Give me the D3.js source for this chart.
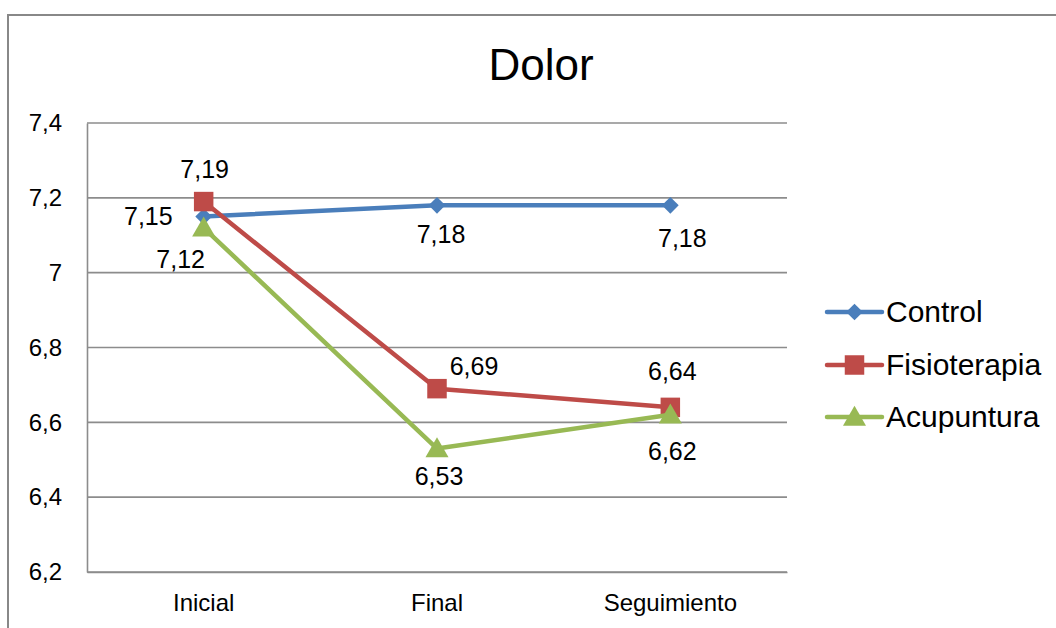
<!DOCTYPE html>
<html>
<head>
<meta charset="utf-8">
<script src="https://cdn.jsdelivr.net/npm/d3@7"></script>
<style>
  html, body { margin: 0; padding: 0; background: #fff; }
  svg { display: block; font-family: "Liberation Sans", Arial, sans-serif; }
</style>
</head>
<body>
<svg id="chart" width="1056" height="628"></svg>
<script>
// Dolor scores per group across the three assessment points
const categories = ["Inicial", "Final", "Seguimiento"];
const seriesNames = ["Control", "Fisioterapia", "Acupuntura"];
const controlValues = [7.15, 7.18, 7.18];
const fisioterapiaValues = [7.19, 6.69, 6.64];
const acupunturaValues = [7.12, 6.53, 6.62];
const yTicks = [6.2, 6.4, 6.6, 6.8, 7.0, 7.2, 7.4];

const seriesValues = [controlValues, fisioterapiaValues, acupunturaValues];
const colors = ["#4A7EBB", "#BE4B48", "#98B954"];
const markers = [d3.symbolSquare, d3.symbolSquare, d3.symbolTriangle];
const markerSizes = [140, 380, 230];
const markerRotation = [45, 0, 0];
const markerShift = [0, 0, 2];

// Label placement per series and point: [dx, baseline dy, anchor]
const labelPlacement = [
  [[-31, 8, "end"], [4, 38, "middle"], [12, 42, "middle"]],
  [[1, -24, "middle"], [37, -14, "middle"], [2, -27, "middle"]],
  [[-23, 40, "middle"], [2, 36, "middle"], [2, 45, "middle"]]
];

const fmt = v => String(v).replace(".", ",");

const svg = d3.select("#chart");
const plot = { left: 87, right: 787, top: 123, bottom: 572 };

// Outer chart frame
svg.append("rect")
  .attr("x", 8).attr("y", 15)
  .attr("width", 1200).attr("height", 800)
  .attr("fill", "#fff")
  .attr("stroke", "#888").attr("stroke-width", 2);

const x = d3.scaleBand().domain(categories).range([plot.left, plot.right]);
const y = d3.scaleLinear().domain([6.2, 7.4]).range([plot.bottom, plot.top]);
const cx = c => x(c) + x.bandwidth() / 2;

// Gridlines
svg.append("g")
  .selectAll("line")
  .data(yTicks)
  .join("line")
  .attr("x1", plot.left).attr("x2", plot.right)
  .attr("y1", d => y(d)).attr("y2", d => y(d))
  .attr("stroke", "#8c8c8c").attr("stroke-width", 1.6);

// Y axis
const yAxis = svg.append("g")
  .attr("transform", `translate(${plot.left},0)`)
  .call(d3.axisLeft(y).tickValues(yTicks).tickSize(0).tickPadding(25)
    .tickFormat(d => fmt(d)));
yAxis.select(".domain").attr("stroke", "#8c8c8c").attr("stroke-width", 1.6);
yAxis.selectAll("text").attr("font-size", 24).attr("fill", "#000")
  .attr("font-family", "Liberation Sans, Arial, sans-serif");

// X axis
const xAxis = svg.append("g")
  .attr("transform", `translate(0,${plot.bottom})`)
  .call(d3.axisBottom(x).tickSize(0).tickPadding(22));
xAxis.select(".domain").attr("stroke", "#8c8c8c").attr("stroke-width", 1.6);
xAxis.selectAll("text").attr("font-size", 24).attr("fill", "#000")
  .attr("font-family", "Liberation Sans, Arial, sans-serif");

// Title
svg.append("text")
  .attr("x", 541).attr("y", 80)
  .attr("text-anchor", "middle")
  .attr("font-size", 44)
  .attr("fill", "#000")
  .text("Dolor");

const line = d3.line().x((d, i) => cx(categories[i])).y(d => y(d));

seriesValues.forEach((vals, s) => {
  const g = svg.append("g");
  g.append("path")
    .datum(vals)
    .attr("d", line)
    .attr("fill", "none")
    .attr("stroke", colors[s])
    .attr("stroke-width", 4.5)
    .attr("stroke-linejoin", "round");
  g.selectAll("path.marker")
    .data(vals)
    .join("path")
    .attr("class", "marker")
    .attr("d", d3.symbol().type(markers[s]).size(markerSizes[s]))
    .attr("transform", (d, i) =>
      `translate(${cx(categories[i])},${y(d) + markerShift[s]}) rotate(${markerRotation[s]})`)
    .attr("fill", colors[s]);
});

// Data labels
seriesValues.forEach((vals, s) => {
  svg.append("g")
    .selectAll("text")
    .data(vals)
    .join("text")
    .attr("x", (d, i) => cx(categories[i]) + labelPlacement[s][i][0])
    .attr("y", (d, i) => y(d) + labelPlacement[s][i][1])
    .attr("text-anchor", (d, i) => labelPlacement[s][i][2])
    .attr("font-size", 25)
    .attr("fill", "#000")
    .text(d => fmt(d));
});

// Legend
const legend = svg.append("g").attr("transform", "translate(827,0)");
const legendY = [312, 365, 417];
seriesNames.forEach((name, s) => {
  const row = legend.append("g").attr("transform", `translate(0,${legendY[s]})`);
  row.append("line")
    .attr("x1", 0).attr("x2", 55)
    .attr("stroke", colors[s]).attr("stroke-width", 4.5)
    .attr("stroke-linecap", "round");
  row.append("path")
    .attr("d", d3.symbol().type(markers[s]).size(markerSizes[s]))
    .attr("transform", `translate(27.5,${markerShift[s]}) rotate(${markerRotation[s]})`)
    .attr("fill", colors[s]);
  row.append("text")
    .attr("x", 59).attr("y", 10)
    .attr("font-size", 30)
    .attr("fill", "#000")
    .text(name);
});
</script>
</body>
</html>
